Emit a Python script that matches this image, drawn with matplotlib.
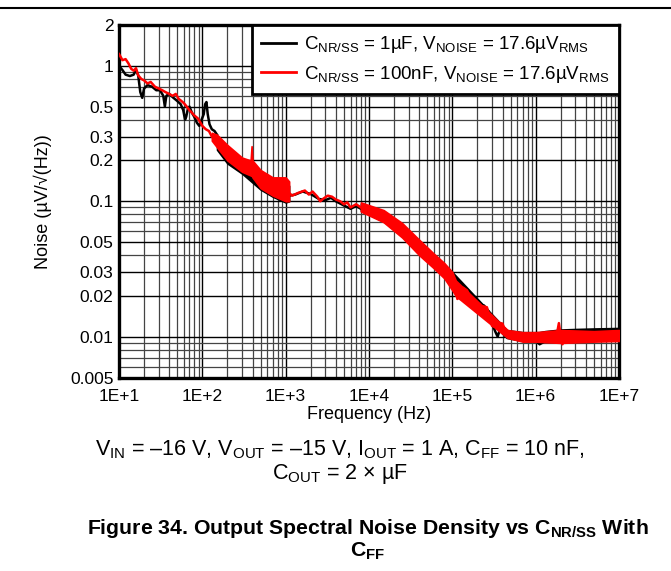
import numpy as np
import matplotlib; matplotlib.use("Agg")
import matplotlib.pyplot as plt
from matplotlib.ticker import FixedLocator, NullFormatter, LogLocator

plt.rcParams["font.family"] = ["Liberation Sans", "DejaVu Sans"]
plt.rcParams["mathtext.fontset"] = "custom"
plt.rcParams["mathtext.rm"] = "Liberation Sans"
plt.rcParams["mathtext.it"] = "Liberation Sans"
plt.rcParams["mathtext.bf"] = "Liberation Sans:bold"

# ---- data ----
# black: C_NR/SS = 1uF
bk_f = [10, 11, 12, 13.5, 15, 16, 17, 18, 19, 20, 22, 25, 28, 31, 34, 35.5, 37, 40, 45, 50, 55,
        59, 62, 64, 67, 70, 75, 80, 86, 92, 98, 104, 108, 112, 116, 122, 130, 140, 150]
bk_v = [1.0, 0.93, 0.86, 0.84, 0.86, 0.93, 0.85, 0.64, 0.58, 0.68, 0.72, 0.70, 0.66, 0.66, 0.60,
        0.50, 0.60, 0.62, 0.58, 0.55, 0.52, 0.47, 0.40, 0.42, 0.48, 0.50, 0.45, 0.42, 0.38, 0.36,
        0.40, 0.44, 0.52, 0.54, 0.44, 0.37, 0.34, 0.33, 0.31]
bk_f2 = [1100, 1300, 1600, 2000, 2500, 3000, 3500, 4000, 5000, 6000, 7000, 8000]
bk_v2 = [0.11, 0.112, 0.118, 0.113, 0.104, 0.102, 0.106, 0.10, 0.093, 0.088, 0.092, 0.088]
bk_f3 = [100e3, 115e3, 130e3, 150e3, 175e3, 200e3, 240e3, 270e3, 300e3, 330e3, 350e3, 370e3,
         400e3, 450e3]
bk_v3 = [0.027, 0.025, 0.024, 0.022, 0.019, 0.0175, 0.017, 0.0155, 0.0125, 0.0108, 0.0100,
         0.0112, 0.011, 0.0105]
# black noise bands (frequency, low, high)
bk_bf = [150, 200, 300, 500, 700, 1000, 1100, 8e3, 15e3, 25e3, 40e3, 60e3, 80e3, 100e3,
         450e3, 700e3, 1e6, 1.1e6, 1.3e6, 2e6, 3e6, 5e6, 10e6]
bk_lo = [0.24, 0.19, 0.16, 0.122, 0.108, 0.098, 0.10, 0.085, 0.071, 0.055, 0.041, 0.033, 0.028,
         0.024, 0.0098, 0.0093, 0.0092, 0.0088, 0.0093, 0.0094, 0.0095, 0.0096, 0.0096]
bk_hi = [0.30, 0.25, 0.20, 0.165, 0.145, 0.14, 0.13, 0.096, 0.084, 0.067, 0.050, 0.040, 0.034,
         0.030, 0.0112, 0.0108, 0.0108, 0.0108, 0.011, 0.0113, 0.0114, 0.0115, 0.0116]

# red: C_NR/SS = 100nF
rd_f = [10, 10.5, 11, 12, 13, 14, 15, 16, 17, 18.5, 20, 22, 24, 27, 30, 33, 36, 40, 44, 48, 52,
        56, 60, 65, 70, 75, 80, 88, 95, 100, 110, 120, 130, 140]
rd_v = [1.22, 1.16, 1.10, 1.12, 1.04, 0.95, 0.92, 0.96, 0.85, 0.80, 0.78, 0.74, 0.76, 0.70,
        0.68, 0.66, 0.64, 0.62, 0.60, 0.62, 0.57, 0.55, 0.53, 0.50, 0.47, 0.45, 0.43, 0.41,
        0.38, 0.36, 0.34, 0.33, 0.30, 0.29]
rd_f2 = [1100, 1200, 1400, 1700, 1900, 2100, 2400, 2600, 2800, 3200, 3600, 4000, 4500, 5000,
         5500, 6000, 7000, 8000]
rd_v2 = [0.115, 0.11, 0.115, 0.12, 0.112, 0.118, 0.108, 0.10, 0.104, 0.11, 0.108, 0.103, 0.10,
         0.095, 0.098, 0.09, 0.095, 0.09]
rd_f3 = [110e3, 115e3, 125e3, 135e3, 150e3, 165e3, 180e3, 200e3, 230e3, 260e3, 280e3, 300e3,
         330e3, 360e3, 400e3, 430e3, 460e3]
rd_v3 = [0.022, 0.019, 0.020, 0.023, 0.022, 0.0195, 0.0175, 0.017, 0.0168, 0.0165, 0.014,
         0.012, 0.0118, 0.0127, 0.0125, 0.011, 0.0105]
rd_f4 = [1.8e6, 1.9e6, 2.0e6, 2.1e6, 2.2e6]
rd_v4 = [0.0105, 0.0126, 0.0100, 0.0088, 0.0100]
rd_bf = [130, 150, 200, 300, 380, 390, 400, 500, 700, 1000, 1100, 8e3, 15e3, 25e3, 40e3, 60e3,
         80e3, 100e3, 110e3, 460e3, 700e3, 1e6, 2e6, 5e6, 10e6]
rd_lo = [0.28, 0.25, 0.20, 0.165, 0.155, 0.155, 0.15, 0.125, 0.11, 0.10, 0.10, 0.084, 0.070,
         0.054, 0.040, 0.032, 0.027, 0.022, 0.020, 0.0098, 0.0092, 0.0092, 0.0090, 0.0092, 0.0093]
rd_hi = [0.32, 0.31, 0.26, 0.21, 0.20, 0.255, 0.20, 0.17, 0.15, 0.15, 0.14, 0.098, 0.086,
         0.069, 0.052, 0.041, 0.035, 0.030, 0.026, 0.0112, 0.0108, 0.0108, 0.0112, 0.011, 0.0112]

x_ticks = [1e1, 1e2, 1e3, 1e4, 1e5, 1e6, 1e7]
x_labels = ["1E+1", "1E+2", "1E+3", "1E+4", "1E+5", "1E+6", "1E+7"]
y_ticks = [0.005, 0.01, 0.02, 0.03, 0.05, 0.1, 0.2, 0.3, 0.5, 1, 2]
y_labels = ["0.005", "0.01", "0.02", "0.03", "0.05", "0.1", "0.2", "0.3", "0.5", "1", "2"]

W, H = 671, 571
fig = plt.figure(figsize=(W / 100, H / 100), dpi=100)
ax = fig.add_axes([119 / W, 1 - 377.5 / H, 500 / W, 352.5 / H])
ax.set_xscale("log"); ax.set_yscale("log")
ax.set_xlim(1e1, 1e7); ax.set_ylim(0.005, 2)

for f, v, bf, lo, hi, c, segs in [
        (bk_f, bk_v, bk_bf, bk_lo, bk_hi, "black", [(bk_f2, bk_v2), (bk_f3, bk_v3)]),
        (rd_f, rd_v, rd_bf, rd_lo, rd_hi, "#ff0000", [(rd_f2, rd_v2), (rd_f3, rd_v3), (rd_f4, rd_v4)])]:
    bf, lo, hi = np.array(bf), np.array(lo), np.array(hi)
    # bands drawn piecewise (gaps where the trace is a plain line)
    breaks = [0] + [i for i in range(1, len(bf)) if bf[i] / bf[i - 1] > 5] + [len(bf)]
    for a, b in zip(breaks[:-1], breaks[1:]):
        ax.fill_between(bf[a:b], lo[a:b], hi[a:b], color=c, lw=1.2, ec=c, zorder=3)
    ax.plot(f, v, color=c, lw=1.8, zorder=3)
    for sf, sv in segs:
        ax.plot(sf, sv, color=c, lw=1.8, zorder=3)

ax.plot([], [], color="black", lw=2,
        label=r"C$_{\mathrm{NR/SS}}$ = 1µF, V$_{\mathrm{NOISE}}$ = 17.6µV$_{\mathrm{RMS}}$")
ax.plot([], [], color="#ff0000", lw=2,
        label=r"C$_{\mathrm{NR/SS}}$ = 100nF, V$_{\mathrm{NOISE}}$ = 17.6µV$_{\mathrm{RMS}}$")
leg = ax.legend(loc="upper right", fontsize=13.5, frameon=True, fancybox=False, framealpha=1,
                edgecolor="black", borderaxespad=0, handlelength=1.85, handletextpad=0.45,
                borderpad=0.5, labelspacing=0.45)
leg.get_frame().set_linewidth(2)
leg.set_zorder(5)

ax.xaxis.set_major_locator(FixedLocator(x_ticks))
ax.set_xticklabels(x_labels)
ax.xaxis.set_minor_locator(LogLocator(base=10, subs=np.arange(2, 10)))
ax.xaxis.set_minor_formatter(NullFormatter())
ax.yaxis.set_major_locator(FixedLocator(y_ticks))
ax.set_yticklabels(y_labels)
ax.yaxis.set_minor_locator(LogLocator(base=10, subs=np.arange(1, 10), numticks=20))
ax.yaxis.set_minor_formatter(NullFormatter())
ax.tick_params(which="both", length=0, labelsize=12.5)
ax.tick_params(axis="x", pad=8.5)
ax.tick_params(axis="y", pad=4)
ax.grid(which="major", color="black", lw=1.0)
ax.grid(which="minor", color="#444444", lw=0.9)
ax.set_axisbelow(True)
for s in ax.spines.values():
    s.set_linewidth(2.4)

ax.set_xlabel("Frequency (Hz)", fontsize=13, labelpad=1)
ax.set_ylabel("Noise (µV/√(Hz))", fontsize=13)
ax.yaxis.set_label_coords(-0.135, 0.5)

fig.text(340 / W, 1 - 450 / H,
         r"V$_{\mathrm{IN}}$ = –16 V, V$_{\mathrm{OUT}}$ = –15 V, I$_{\mathrm{OUT}}$ = 1 A, "
         r"C$_{\mathrm{FF}}$ = 10 nF,", ha="center", va="center", fontsize=15.5)
fig.text(340 / W, 1 - 474 / H, r"C$_{\mathrm{OUT}}$ = 2 × µF", ha="center", va="center",
         fontsize=15.5)
fig.text(368 / W, 1 - 528 / H,
         r"Figure 34. Output Spectral Noise Density vs C$_{\mathbf{NR/SS}}$ With",
         ha="center", va="center", fontsize=15.3, fontweight="bold")
fig.text(368 / W, 1 - 551 / H, r"C$_{\mathbf{FF}}$", ha="center", va="center", fontsize=15.3,
         fontweight="bold")
fig.add_artist(plt.Line2D([0, 1], [1 - 8 / H, 1 - 8 / H], color="black", lw=1.5))

fig.savefig("out.png", dpi=100)
